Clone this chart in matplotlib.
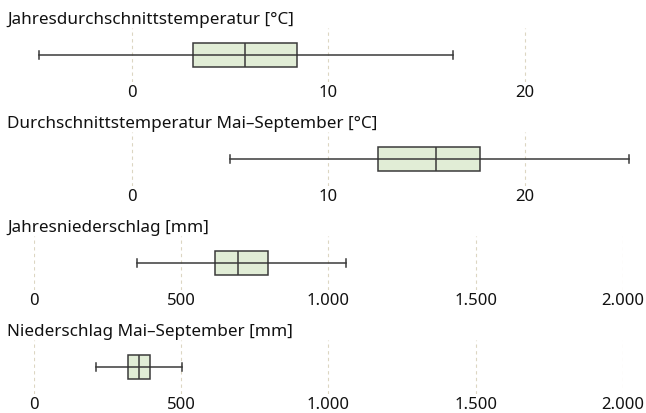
import matplotlib
matplotlib.use("Agg")
import matplotlib.pyplot as plt
import matplotlib.ticker as mticker

plt.rcParams["font.family"] = ["Noto Sans", "DejaVu Sans"]

# ── Data ──────────────────────────────────────────────────────
titles = ["Jahresdurchschnittstemperatur [°C]",
          "Durchschnittstemperatur Mai–September [°C]",
          "Jahresniederschlag [mm]",
          "Niederschlag Mai–September [mm]"]
whisker_lo = [-4.7, 5.0, 350, 212]
q1         = [3.1, 12.55, 616, 320]
median     = [5.75, 15.5, 693, 358]
q3         = [8.4, 17.7, 797, 396]
whisker_hi = [16.35, 25.3, 1061, 505]
tick_sets  = [[0, 10, 20], [0, 10, 20],
              [0, 500, 1000, 1500, 2000], [0, 500, 1000, 1500, 2000]]
xlims      = [(-5, 25), (-5, 25), (0, 2000), (0, 2000)]

BOX_FILL = "#e1edd6"
EDGE     = "#3a3a3a"
GRID     = "#dcd6c2"

W, H = 646, 414
fig = plt.figure(figsize=(W / 100, H / 100), dpi=100)


def fmt_de(x, pos):
    return f"{int(x):,}".replace(",", ".")


for i in range(4):
    top = 29 + 104 * i
    ax = fig.add_axes([33.5 / W, 1 - (top + 54) / H, (623 - 33.5) / W, 54 / H])
    stats = [{"whislo": whisker_lo[i], "q1": q1[i], "med": median[i],
              "q3": q3[i], "whishi": whisker_hi[i], "fliers": []}]
    art = ax.bxp(stats, positions=[1], widths=0.445, vert=False, patch_artist=True,
                 showfliers=False,
                 boxprops=dict(facecolor=BOX_FILL, edgecolor=EDGE, linewidth=1.1),
                 medianprops=dict(color=EDGE, linewidth=1.1),
                 whiskerprops=dict(color=EDGE, linewidth=1.1),
                 capprops=dict(color=EDGE, linewidth=1.1),
                 capwidths=0.16)
    for group in art.values():
        for a in group:
            a.set_clip_on(False)
    # line through the box like in the reference
    ax.plot([q1[i], q3[i]], [1, 1], color=EDGE, lw=1.1, zorder=3)

    ax.set_xlim(*xlims[i])
    ax.set_ylim(0.5, 1.5)
    ax.set_xticks(tick_sets[i])
    ax.xaxis.set_major_formatter(mticker.FuncFormatter(fmt_de))
    ax.set_yticks([])
    ax.tick_params(axis="x", length=0, pad=1.5, labelsize=12, colors="#111111")
    for s in ax.spines.values():
        s.set_visible(False)
    ax.grid(axis="x", color=GRID, linestyle=(0, (3, 3)), linewidth=0.8)
    ax.set_axisbelow(True)
    ax.patch.set_alpha(0)

    fig.text(7 / W, 1 - (24 + 104 * i) / H, titles[i], fontsize=12.3,
             color="#111111", va="baseline", ha="left")

fig.savefig("out.png", dpi=100)
